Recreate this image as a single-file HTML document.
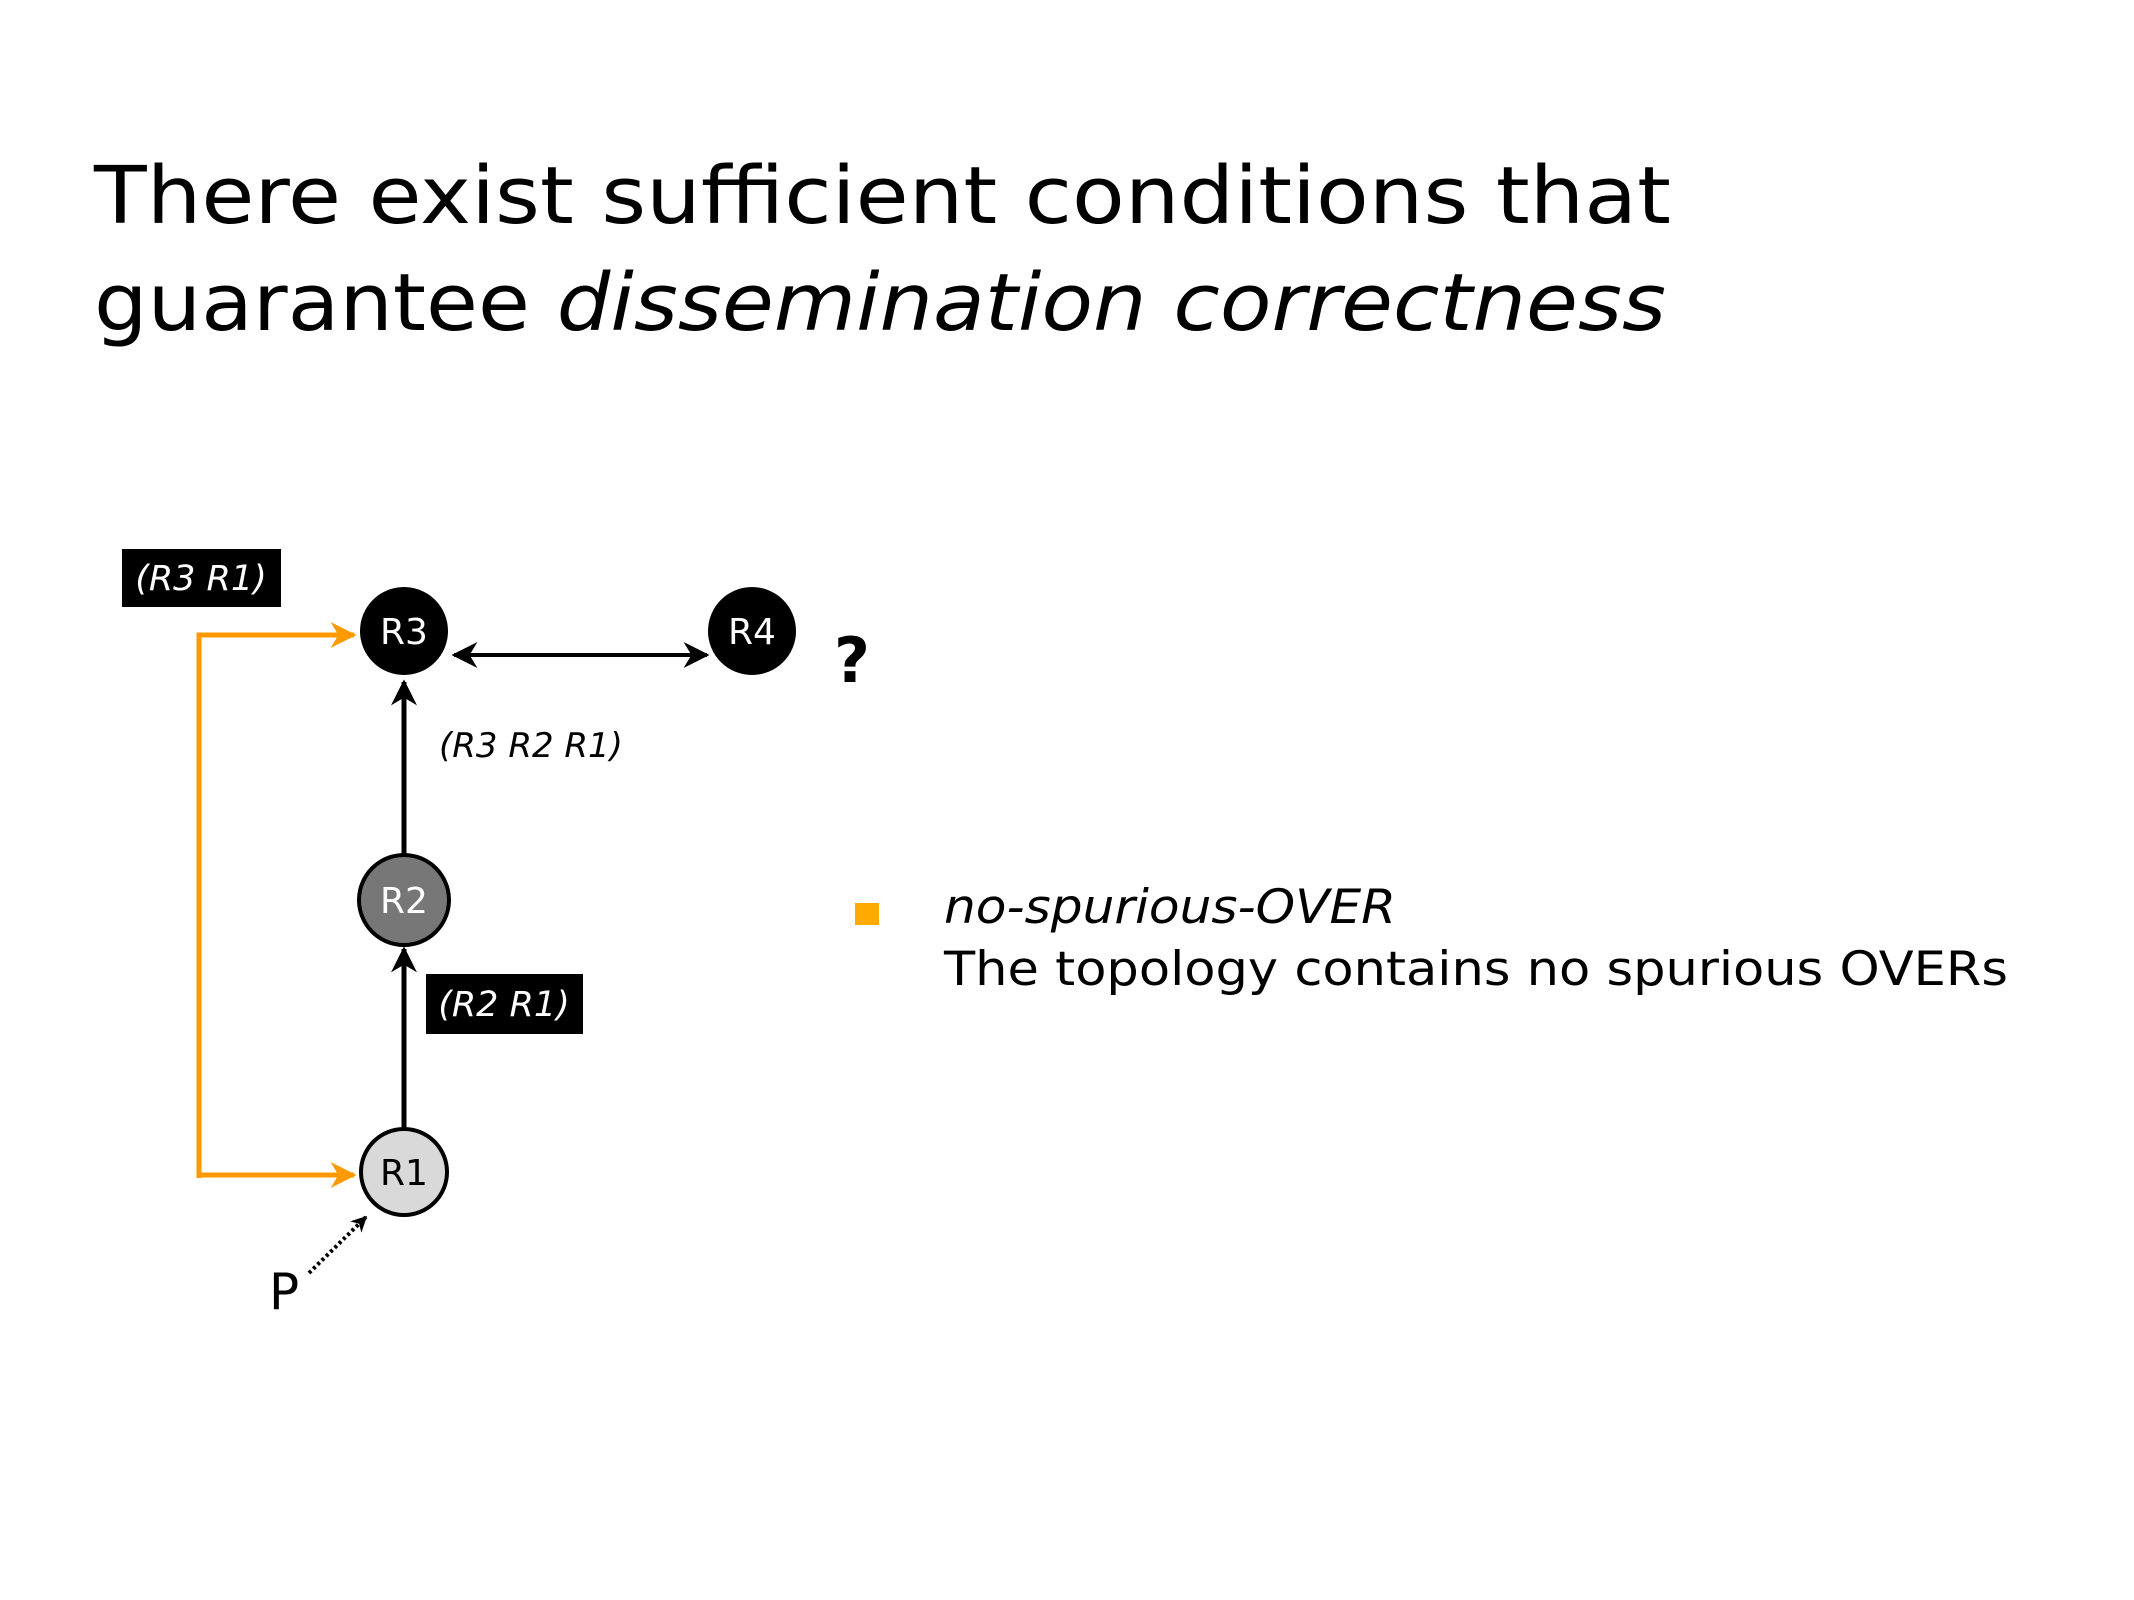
<!DOCTYPE html>
<html><head><meta charset="utf-8"><style>html,body{margin:0;padding:0;background:#fff}svg{display:block}</style></head>
<body>
<svg width="2134" height="1600" viewBox="0 0 2134 1600" xmlns="http://www.w3.org/2000/svg" font-family="'DejaVu Sans','Liberation Sans',sans-serif">
<defs>
<marker id="abig" viewBox="0 0 10 10" refX="9" refY="5" markerWidth="26" markerHeight="26" orient="auto-start-reverse" markerUnits="userSpaceOnUse"><path d="M0,0 L10,5 L0,10 L3,5 Z" fill="#000"/></marker>
<marker id="ao" viewBox="0 0 10 10" refX="9" refY="5" markerWidth="26" markerHeight="26" orient="auto" markerUnits="userSpaceOnUse"><path d="M0,0 L10,5 L0,10 L3,5 Z" fill="#f90"/></marker>
<marker id="as" viewBox="0 0 10 10" refX="9" refY="5" markerWidth="16" markerHeight="16" orient="auto" markerUnits="userSpaceOnUse"><path d="M0,0 L10,5 L0,10 L3,5 Z" fill="#000"/></marker>
</defs>
<text x="94" y="223" font-size="79" textLength="1577" lengthAdjust="spacingAndGlyphs">There exist sufficient conditions that</text>
<text x="94" y="330" font-size="79" textLength="1572" lengthAdjust="spacingAndGlyphs">guarantee <tspan font-style="italic">dissemination correctness</tspan></text>

<g transform="translate(-4,-8)">
<polyline points="203,1186 203,643 358,643" fill="none" stroke="#f90" stroke-width="5" marker-end="url(#ao)"/>
<line x1="203" y1="1183" x2="358" y2="1183" stroke="#f90" stroke-width="5" marker-end="url(#ao)"/>
<line x1="408" y1="864" x2="408" y2="690" stroke="#000" stroke-width="5" marker-end="url(#abig)"/>
<line x1="408" y1="1140" x2="408" y2="957" stroke="#000" stroke-width="5" marker-end="url(#abig)"/>
<line x1="458" y1="663" x2="711" y2="663" stroke="#000" stroke-width="4" marker-end="url(#abig)" marker-start="url(#abig)"/>
<line x1="313" y1="1281" x2="370" y2="1225" stroke="#000" stroke-width="4" stroke-dasharray="3,3" marker-end="url(#as)"/>

<circle cx="408" cy="639" r="44" fill="#000"/>
<circle cx="756" cy="639" r="44" fill="#000"/>
<circle cx="408" cy="908" r="45" fill="#777" stroke="#000" stroke-width="4"/>
<circle cx="408" cy="1180" r="43" fill="#d9d9d9" stroke="#000" stroke-width="4"/>
<g font-size="36" text-anchor="middle">
<text x="408" y="652" fill="#fff">R3</text>
<text x="756" y="652" fill="#fff">R4</text>
<text x="408" y="921" fill="#fff">R2</text>
<text x="408" y="1193" fill="#000">R1</text>
</g>
<rect x="126" y="557" width="159" height="58" fill="#000"/>
<text x="205" y="598" font-size="35" font-style="italic" fill="#fff" text-anchor="middle">(R3 R1)</text>
<rect x="430" y="982" width="157" height="60" fill="#000"/>
<text x="508" y="1024" font-size="35" font-style="italic" fill="#fff" text-anchor="middle">(R2 R1)</text>
<text x="443" y="765" font-size="34" font-style="italic" fill="#000">(R3 R2 R1)</text>
<text x="838" y="690" font-size="62" font-weight="bold" fill="#000">?</text>
<text x="273" y="1317" font-size="50" fill="#000">P</text>
</g>

<rect x="855" y="903" width="24" height="22" fill="#fa0"/>
<text x="944" y="923" font-size="47" font-style="italic" textLength="452" lengthAdjust="spacingAndGlyphs">no-spurious-OVER</text>
<text x="944" y="985" font-size="47" textLength="1064" lengthAdjust="spacingAndGlyphs">The topology contains no spurious OVERs</text>
</svg>
</body></html>
